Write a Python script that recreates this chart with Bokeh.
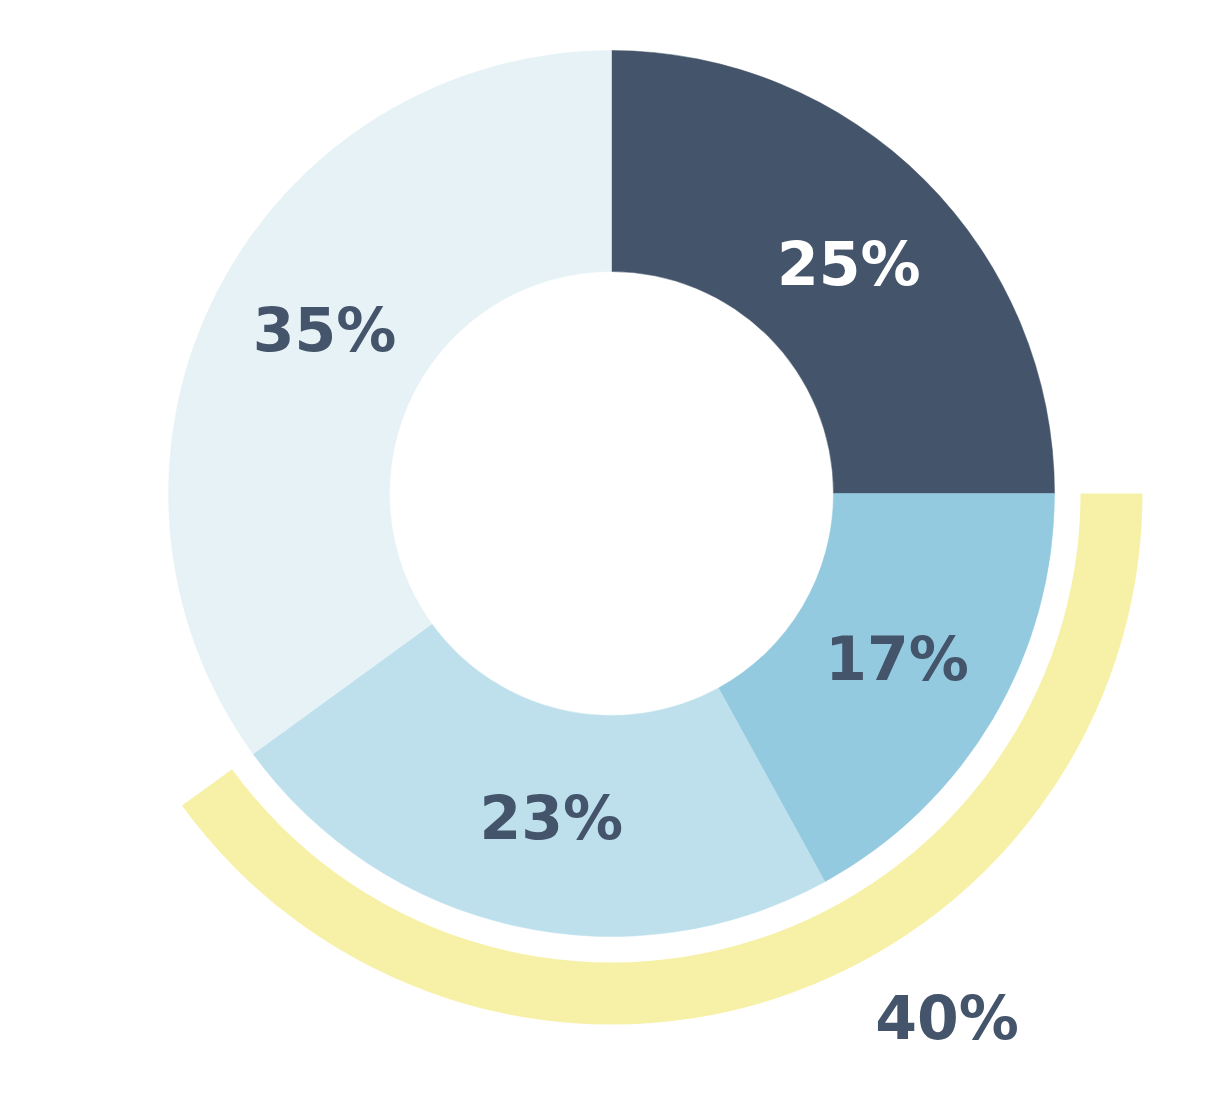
import numpy as np
from bokeh.plotting import figure
from bokeh.models import Range1d, ColumnDataSource
from bokeh.core.properties import value
from bokeh.embed import file_html
from bokeh.resources import INLINE

labels = ["25%", "17%", "23%", "35%"]
shares = [25, 17, 23, 35]
colors = ["#44546A", "#93CADF", "#BDE0EC", "#E6F2F5"]
text_colors = ["#FFFFFF", "#44546A", "#44546A", "#44546A"]
highlight_label = "40%"
highlight_share = 40  # covers the 17% + 23% slices

# layout / style
W, H = 1208, 1077
cx, cy = 611, 493  # pixel position of the centre within the figure
label_angles_deg = [44.0, -30.1, -100.5, 150.4]
label_radius = 330
hl_label_angle_deg, hl_label_radius = -57.4, 623

p = figure(width=W, height=H, output_backend="svg", toolbar_location=None,
           x_range=Range1d(-cx, W - cx),
           y_range=Range1d(cy - H, cy),
           min_border=0)
p.axis.visible = False
p.grid.visible = False
p.outline_line_color = None
p.background_fill_color = "white"

frac = np.array(shares, dtype=float) / sum(shares)
cum = np.concatenate([[0], np.cumsum(frac)])
a0 = np.pi / 2 - 2 * np.pi * cum[:-1]
a1 = np.pi / 2 - 2 * np.pi * cum[1:]

src = ColumnDataSource(dict(x=[0] * len(shares), y=[0] * len(shares),
                            start=list(a1), end=list(a0), color=colors))
p.annular_wedge(x="x", y="y", inner_radius=222, outer_radius=443,
                start_angle="start", end_angle="end", direction="anticlock",
                fill_color="color", line_color="color", line_width=0.5, source=src)

# highlight arc
h_start = np.pi / 2 - 2 * np.pi * frac[0]
h_end = h_start - 2 * np.pi * highlight_share / 100
p.annular_wedge(x=0, y=0, inner_radius=469, outer_radius=531,
                start_angle=h_end, end_angle=h_start, direction="anticlock",
                fill_color="#F7F1A8", line_color=None)

la = np.deg2rad(label_angles_deg)
tsrc = ColumnDataSource(dict(x=list(label_radius * np.cos(la)),
                             y=list(label_radius * np.sin(la)),
                             t=labels, c=text_colors))
p.text(x="x", y="y", text="t", text_color="c", source=tsrc,
       text_font=value("DejaVu Sans"), text_font_style="bold",
       text_font_size="60px", text_align="center", text_baseline="middle")

ang40 = np.deg2rad(hl_label_angle_deg)
p.text(x=[hl_label_radius * np.cos(ang40)], y=[hl_label_radius * np.sin(ang40)],
       text=[highlight_label],
       text_color="#44546A", text_font=value("DejaVu Sans"), text_font_style="bold",
       text_font_size="60px", text_align="center", text_baseline="middle")

open("out.html", "w").write(file_html(p, INLINE))
